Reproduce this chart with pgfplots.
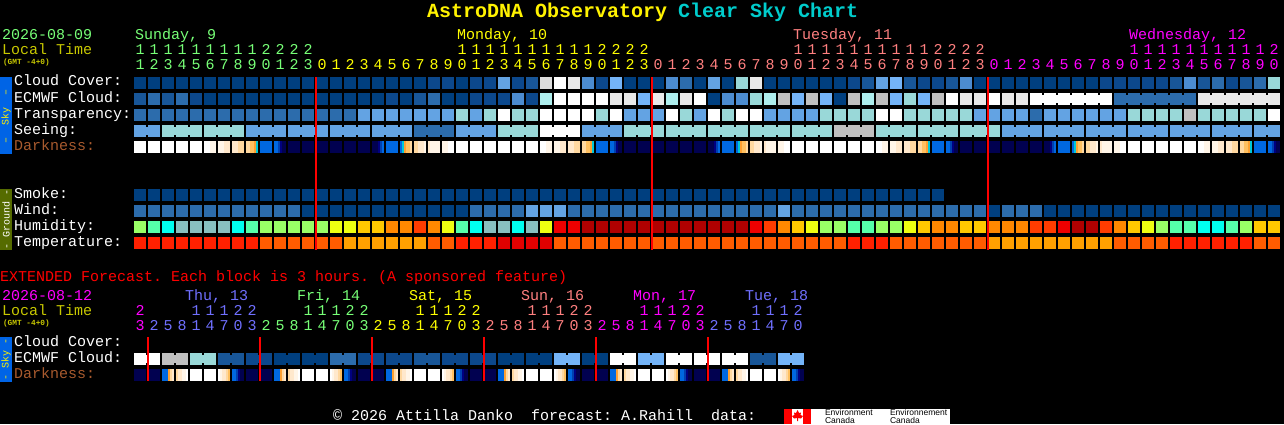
\documentclass[border=0pt]{standalone}
\usepackage{fontspec}
\usepackage{pgfplots}
\usepackage{pgfplotstable}
\pgfplotsset{compat=1.18}
\setmainfont{Liberation Mono}
\newfontfamily\logofont{Liberation Sans}
\frenchspacing

% one row per hour column: x = centre of the block in px, then colour codes, s1..s6 = darkness stripes
\pgfplotstableread{
x cloud ecmwf transp seeing smoke wind humid temp s1 s2 s3 s4 s5 s6
140 0 2 3 5 0 3 19 24 12 12 12 12 12 12
154 0 3 3 5 0 3 20 24 12 12 12 12 12 12
168 0 2 3 7 0 3 21 24 12 12 12 12 12 12
182 0 3 3 7 0 3 22 24 12 12 12 12 12 12
196 0 1 3 7 0 3 22 24 12 12 12 12 12 12
210 0 0 3 7 0 3 22 24 12 12 12 36 36 36
224 0 0 3 7 0 3 22 24 36 36 36 35 35 35
238 0 0 3 7 0 3 21 24 35 35 35 34 34 34
252 0 0 3 5 0 3 20 24 34 34 33 33 32 31
266 0 0 3 5 0 3 19 25 30 30 30 30 30 30
280 0 0 3 5 0 3 19 25 30 30 29 28 27 27
294 0 0 3 5 0 3 19 25 27 27 27 27 27 27
308 0 0 3 5 0 0 19 25 27 27 27 27 27 27
322 0 0 3 5 0 0 19 25 27 27 27 27 27 27
336 0 0 3 5 0 0 18 25 27 27 27 27 27 27
350 0 0 3 5 0 0 18 26 27 27 27 27 27 27
364 0 0 5 5 0 0 17 26 27 27 27 27 27 27
378 0 0 5 5 0 0 17 26 27 27 27 28 29 30
392 0 1 5 5 0 0 16 26 30 30 30 30 30 30
406 0 0 5 5 0 0 16 26 30 31 32 33 33 34
420 0 2 5 3 0 0 15 26 34 34 35 35 35 36
434 1 3 5 3 0 0 16 25 35 36 36 36 36 36
448 1 0 5 3 0 0 18 25 36 36 36 12 12 12
462 0 0 7 5 0 0 20 24 12 12 12 12 12 12
476 1 1 5 5 0 3 21 24 12 12 12 12 12 12
490 1 1 7 5 0 3 22 24 12 12 12 12 12 12
504 5 1 12 7 0 3 22 23 12 12 12 12 12 12
518 1 4 7 7 0 3 21 23 12 12 12 12 12 12
532 2 1 7 7 0 5 22 23 12 12 12 12 12 12
546 10 8 12 12 0 5 18 23 12 12 12 36 36 36
560 12 12 12 12 0 5 14 25 36 36 36 35 35 35
574 11 12 12 12 0 3 14 25 35 35 35 34 34 34
588 4 12 12 5 0 3 13 25 34 34 33 33 32 31
602 1 12 7 5 0 3 13 25 30 30 30 30 30 30
616 6 11 12 5 0 3 13 25 30 30 29 28 27 27
630 0 11 5 7 0 3 13 25 27 27 27 27 27 27
644 0 6 5 7 0 3 13 25 27 27 27 27 27 27
658 0 11 5 7 0 3 13 25 27 27 27 27 27 27
672 4 8 12 7 0 3 13 25 27 27 27 27 27 27
686 3 11 7 7 0 3 13 25 27 27 27 27 27 27
700 0 12 5 7 0 3 13 25 27 27 27 27 27 27
714 5 0 12 7 0 3 13 25 27 27 27 28 29 30
728 0 4 7 7 0 3 13 25 30 30 30 30 30 30
742 7 4 12 7 0 3 13 25 30 31 32 33 33 34
756 11 7 12 7 0 3 14 25 34 34 35 35 35 36
770 0 8 5 7 0 3 15 25 35 36 36 36 36 36
784 0 9 5 7 0 5 16 25 36 36 36 12 12 12
798 0 6 5 7 0 3 17 25 12 12 12 12 12 12
812 0 9 5 7 0 3 18 25 12 12 12 12 12 12
826 0 6 7 7 0 3 19 25 12 12 12 12 12 12
840 0 0 7 9 0 3 19 25 12 12 12 12 12 12
854 1 9 7 9 0 3 20 24 12 12 12 12 12 12
868 2 8 7 9 0 3 20 24 12 12 12 12 12 12
882 5 9 12 7 0 3 19 24 12 12 12 36 36 36
896 6 6 12 7 0 3 19 25 36 36 36 35 35 35
910 2 7 7 7 0 3 18 25 35 35 35 34 34 34
924 1 6 7 7 0 3 17 25 34 34 33 33 32 31
938 1 9 7 7 0 3 16 25 30 30 30 30 30 30
952 2 12 7 7 nan 3 16 25 30 30 29 28 27 27
966 4 11 7 7 nan 3 17 25 27 27 27 27 27 27
980 0 11 5 7 nan 3 17 25 27 27 27 27 27 27
994 0 12 5 7 nan 0 16 26 27 27 27 27 27 27
1008 0 11 5 5 nan 3 16 26 27 27 27 27 27 27
1022 0 11 5 5 nan 3 16 26 27 27 27 27 27 27
1036 0 12 3 5 nan 3 15 26 27 27 27 27 27 27
1050 0 12 5 5 nan 0 15 26 27 27 27 28 29 30
1064 0 12 5 5 nan 0 14 26 30 30 30 30 30 30
1078 0 12 5 5 nan 0 13 26 30 31 32 33 33 34
1092 0 12 5 5 nan 0 13 26 34 34 35 35 35 36
1106 1 12 5 5 nan 0 15 26 35 36 36 36 36 36
1120 1 3 5 5 nan 0 16 25 36 36 36 12 12 12
1134 1 3 7 5 nan 0 17 25 12 12 12 12 12 12
1148 1 3 7 5 nan 0 18 25 12 12 12 12 12 12
1162 1 3 7 5 nan 0 19 25 12 12 12 12 12 12
1176 2 3 7 5 nan 0 20 24 12 12 12 12 12 12
1190 4 3 9 5 nan 0 20 24 12 12 12 12 12 12
1204 2 11 7 5 nan 0 21 24 12 12 12 36 36 36
1218 3 11 7 5 nan 0 21 24 36 36 36 35 35 35
1232 1 11 7 5 nan 0 20 24 35 35 35 34 34 34
1246 2 11 7 5 nan 0 19 24 34 34 33 33 32 31
1260 3 11 7 5 nan 0 17 25 30 30 30 30 30 30
1274 7 11 12 5 nan 0 17 25 30 30 29 28 27 27
}\hours

% extended forecast, one row per 3 hour column
\pgfplotstableread{
x ecmwf s1 s2 s3 s4 s5 s6
140 12 27 27 27 27 27 27
154 12 27 27 27 27 27 27
168 9 30 30 30 32 34 35
182 9 34 35 35 36 36 12
196 7 12 12 12 12 12 12
210 7 12 12 12 12 12 12
224 2 12 36 35 35 34 33
238 2 30 30 29 28 27 27
252 1 27 27 27 27 27 27
266 1 27 27 27 27 27 27
280 0 30 30 30 32 34 35
294 0 34 35 35 36 36 12
308 0 12 12 12 12 12 12
322 0 12 12 12 12 12 12
336 3 12 36 35 35 34 33
350 3 30 30 29 28 27 27
364 1 27 27 27 27 27 27
378 1 27 27 27 27 27 27
392 1 30 30 30 32 34 35
406 1 34 35 35 36 36 12
420 2 12 12 12 12 12 12
434 2 12 12 12 12 12 12
448 1 12 36 35 35 34 33
462 1 30 30 29 28 27 27
476 1 27 27 27 27 27 27
490 1 27 27 27 27 27 27
504 0 30 30 30 32 34 35
518 0 34 35 35 36 36 12
532 0 12 12 12 12 12 12
546 0 12 12 12 12 12 12
560 6 12 36 35 35 34 33
574 6 30 30 29 28 27 27
588 0 27 27 27 27 27 27
602 0 27 27 27 27 27 27
616 12 30 30 30 32 34 35
630 12 34 35 35 36 36 12
644 6 12 12 12 12 12 12
658 6 12 12 12 12 12 12
672 12 12 36 35 35 34 33
686 12 30 30 29 28 27 27
700 12 27 27 27 27 27 27
714 12 27 27 27 27 27 27
728 12 30 30 30 32 34 35
742 12 34 35 35 36 36 12
756 2 12 12 12 12 12 12
770 2 12 12 12 12 12 12
784 6 12 36 35 35 34 33
798 6 30 30 29 28 27 27
}\extended

% little joins between blocks of one forecast period
\pgfplotstableread{
x c
147 5
175 7
189 7
217 7
231 7
259 5
273 5
301 5
315 5
343 5
357 5
385 5
399 5
427 3
441 3
469 5
483 5
511 7
525 7
553 12
567 12
595 5
609 5
637 7
651 7
679 7
693 7
721 7
735 7
763 7
777 7
805 7
819 7
847 9
861 9
889 7
903 7
931 7
945 7
973 7
987 7
1015 5
1029 5
1057 5
1071 5
1099 5
1113 5
1141 5
1155 5
1183 5
1197 5
1225 5
1239 5
1267 5
}\seeingjoins

\pgfplotstableread{
x c
1043 12
1057 12
1071 12
1085 12
1099 12
1127 3
1141 3
1155 3
1169 3
1183 3
1211 11
1225 11
1239 11
1253 11
1267 11
}\ecmwfjoins

\pgfplotstableread{
x c
147 12
175 9
203 7
231 2
259 1
287 0
315 0
343 3
371 1
399 1
427 2
455 1
483 1
511 0
539 0
567 6
595 0
623 12
651 6
679 12
707 12
735 12
763 2
791 6
}\extjoins

\pgfdeclareplotmark{cell}{\pgfpathrectangle{\pgfqpoint{-6pt}{-6pt}}{\pgfqpoint{12pt}{12pt}}\pgfusepathqfill}
\pgfdeclareplotmark{stripe}{\pgfpathrectangle{\pgfqpoint{-1pt}{-6pt}}{\pgfqpoint{2pt}{12pt}}\pgfusepathqfill}
\pgfdeclareplotmark{join}{\pgfpathrectangle{\pgfqpoint{-1pt}{-4pt}}{\pgfqpoint{2pt}{8pt}}\pgfusepathqfill}

\pgfplotsset{
  blocks/.style={only marks, scatter, scatter src=explicit, mark=#1,
    scatter/use mapped color={fill=mapped color}},
  redline/.style={no markers, color=red, line width=2pt},
}

\definecolor{skyblue}{RGB}{0,100,230}
\definecolor{groundgreen}{RGB}{85,107,0}
\definecolor{sunc}{RGB}{119,255,119}
\definecolor{monc}{RGB}{255,255,0}
\definecolor{tuec}{RGB}{255,128,128}
\definecolor{wedc}{RGB}{255,0,255}
\definecolor{thuc}{RGB}{112,112,255}
\definecolor{localc}{RGB}{200,200,0}
\definecolor{darkc}{RGB}{168,90,46}
\definecolor{titlec}{RGB}{0,204,204}

% digits on a 14 px pitch: colour, first column, baseline, digits
\newcommand{\digits}[4]{%
  \foreach \d [count=\i from #2] in {#4}
    \node[txt,anchor=base,text=#1] at ({140+14*\i},#3) {\d};}

\begin{document}
\begin{tikzpicture}
\useasboundingbox (0,0) rectangle (1284pt,424pt);
\fill[black] (0,0) rectangle (1284pt,424pt);
\begin{axis}[
    at={(0,0)}, anchor=south west,
    scale only axis, width=1284pt, height=424pt,
    xmin=0, xmax=1284, ymin=0, ymax=424, y dir=reverse,
    hide axis,
    clip mode=individual,
    point meta min=0, point meta max=36,
    colormap={clearsky}{[1pt]
      rgb255(0pt)=(0,63,127) rgb255(1pt)=(12,72,140) rgb255(2pt)=(24,86,152)
      rgb255(3pt)=(44,108,172) rgb255(4pt)=(76,140,208) rgb255(5pt)=(99,163,227)
      rgb255(6pt)=(116,180,248) rgb255(7pt)=(153,216,216) rgb255(8pt)=(174,238,238)
      rgb255(9pt)=(192,192,192) rgb255(10pt)=(221,221,221) rgb255(11pt)=(233,233,233)
      rgb255(12pt)=(255,255,255)
      rgb255(13pt)=(176,0,0) rgb255(14pt)=(238,0,0) rgb255(15pt)=(255,60,0)
      rgb255(16pt)=(255,136,0) rgb255(17pt)=(255,200,0) rgb255(18pt)=(238,255,17)
      rgb255(19pt)=(153,255,102) rgb255(20pt)=(85,255,170) rgb255(21pt)=(0,255,240)
      rgb255(22pt)=(136,191,191)
      rgb255(23pt)=(224,0,0) rgb255(24pt)=(255,32,0) rgb255(25pt)=(255,92,0)
      rgb255(26pt)=(255,160,0)
      rgb255(27pt)=(0,0,80) rgb255(28pt)=(0,0,128) rgb255(29pt)=(0,64,176)
      rgb255(30pt)=(0,104,224) rgb255(31pt)=(0,200,216) rgb255(32pt)=(255,160,48)
      rgb255(33pt)=(255,192,96) rgb255(34pt)=(255,216,160) rgb255(35pt)=(255,232,204)
      rgb255(36pt)=(255,245,232)},
]
% sky rows
\addplot[blocks=cell] table[x=x,y expr=83,meta=cloud]{\hours};
\addplot[blocks=cell] table[x=x,y expr=99,meta=ecmwf]{\hours};
\addplot[blocks=join] table[x=x,y expr=99,meta=c]{\ecmwfjoins};
\addplot[blocks=cell] table[x=x,y expr=115,meta=transp]{\hours};
\addplot[blocks=cell] table[x=x,y expr=131,meta=seeing]{\hours};
\addplot[blocks=join] table[x=x,y expr=131,meta=c]{\seeingjoins};
\addplot[blocks=stripe] table[x expr=\thisrow{x}-5,y expr=147,meta=s1]{\hours};
\addplot[blocks=stripe] table[x expr=\thisrow{x}-3,y expr=147,meta=s2]{\hours};
\addplot[blocks=stripe] table[x expr=\thisrow{x}-1,y expr=147,meta=s3]{\hours};
\addplot[blocks=stripe] table[x expr=\thisrow{x}+1,y expr=147,meta=s4]{\hours};
\addplot[blocks=stripe] table[x expr=\thisrow{x}+3,y expr=147,meta=s5]{\hours};
\addplot[blocks=stripe] table[x expr=\thisrow{x}+5,y expr=147,meta=s6]{\hours};
% ground rows
\addplot[blocks=cell,skip coords between index={58}{82}] table[x=x,y expr=195,meta=smoke]{\hours};
\addplot[blocks=cell] table[x=x,y expr=211,meta=wind]{\hours};
\addplot[blocks=cell] table[x=x,y expr=227,meta=humid]{\hours};
\addplot[blocks=cell] table[x=x,y expr=243,meta=temp]{\hours};
% extended forecast
\addplot[blocks=cell] table[x=x,y expr=359,meta=ecmwf]{\extended};
\addplot[blocks=join] table[x=x,y expr=359,meta=c]{\extjoins};
\addplot[blocks=stripe] table[x expr=\thisrow{x}-5,y expr=375,meta=s1]{\extended};
\addplot[blocks=stripe] table[x expr=\thisrow{x}-3,y expr=375,meta=s2]{\extended};
\addplot[blocks=stripe] table[x expr=\thisrow{x}-1,y expr=375,meta=s3]{\extended};
\addplot[blocks=stripe] table[x expr=\thisrow{x}+1,y expr=375,meta=s4]{\extended};
\addplot[blocks=stripe] table[x expr=\thisrow{x}+3,y expr=375,meta=s5]{\extended};
\addplot[blocks=stripe] table[x expr=\thisrow{x}+5,y expr=375,meta=s6]{\extended};
% midnight lines
\addplot[redline] coordinates {(316,77) (316,250)};
\addplot[redline] coordinates {(652,77) (652,250)};
\addplot[redline] coordinates {(988,77) (988,250)};
\addplot[redline] coordinates {(148,337) (148,381)};
\addplot[redline] coordinates {(260,337) (260,381)};
\addplot[redline] coordinates {(372,337) (372,381)};
\addplot[redline] coordinates {(484,337) (484,381)};
\addplot[redline] coordinates {(596,337) (596,381)};
\addplot[redline] coordinates {(708,337) (708,381)};
\end{axis}

% all the text, in picture pixels from the top left
\begin{scope}[x=1pt,y=-1pt,shift={(0,424pt)},
    txt/.style={inner sep=0pt,outer sep=0pt,text=white,font=\fontsize{15}{15}\selectfont},
    lab/.style={txt,anchor=base west}]
\node[lab,font=\fontsize{20}{20}\selectfont\bfseries,text=yellow] at (427,18) {AstroDNA Observatory};
\node[lab,font=\fontsize{20}{20}\selectfont\bfseries,text=titlec] at (678,18) {Clear Sky Chart};

\node[lab,text=sunc] at (2,40) {2026-08-09};
\node[lab,text=localc] at (2,55) {Local Time};
\node[lab,text=localc,font=\fontsize{7.8}{8}\selectfont\bfseries] at (3,65) {(GMT -4+0)};
\node[lab,text=sunc] at (135,40) {Sunday, 9};
\node[lab,text=monc] at (457,40) {Monday, 10};
\node[lab,text=tuec] at (793,40) {Tuesday, 11};
\node[lab,text=wedc] at (1129,40) {Wednesday, 12};

\digits{sunc}{0}{55}{1,1,1,1,1,1,1,1,1,2,2,2,2}
\digits{monc}{23}{55}{1,1,1,1,1,1,1,1,1,1,2,2,2,2}
\digits{tuec}{47}{55}{1,1,1,1,1,1,1,1,1,1,2,2,2,2}
\digits{wedc}{71}{55}{1,1,1,1,1,1,1,1,1,1,2}
\digits{sunc}{0}{70}{1,2,3,4,5,6,7,8,9,0,1,2,3}
\digits{monc}{13}{70}{0,1,2,3,4,5,6,7,8,9,0,1,2,3,4,5,6,7,8,9,0,1,2,3}
\digits{tuec}{37}{70}{0,1,2,3,4,5,6,7,8,9,0,1,2,3,4,5,6,7,8,9,0,1,2,3}
\digits{wedc}{61}{70}{0,1,2,3,4,5,6,7,8,9,0,1,2,3,4,5,6,7,8,9,0}

\node[lab] at (14,86) {Cloud Cover:};
\node[lab] at (14,102) {ECMWF Cloud:};
\node[lab] at (14,118) {Transparency:};
\node[lab] at (14,134) {Seeing:};
\node[lab,text=darkc] at (14,150) {Darkness:};
\node[lab] at (14,198) {Smoke:};
\node[lab] at (14,214) {Wind:};
\node[lab] at (14,230) {Humidity:};
\node[lab] at (14,246) {Temperature:};

\fill[skyblue] (0,77) rectangle (12,154);
\fill[groundgreen] (0,189) rectangle (12,250);
\fill[skyblue] (0,337) rectangle (12,382);
\node[txt,rotate=90,text=yellow,font=\fontsize{10}{10}\selectfont] at (6,116) {--\ \ Sky\ \ --};
\node[txt,rotate=90,text=white,font=\fontsize{10}{10}\selectfont] at (6,219) {- Ground -};
\node[txt,rotate=90,text=yellow,font=\fontsize{10}{10}\selectfont] at (6,359) {- Sky -};

\node[lab,text=red] at (0,281) {EXTENDED Forecast. Each block is 3 hours. (A sponsored feature)};
\node[lab,text=wedc] at (2,300) {2026-08-12};
\node[lab,text=localc] at (2,315) {Local Time};
\node[lab,text=localc,font=\fontsize{7.8}{8}\selectfont\bfseries] at (3,325) {(GMT -4+0)};
\node[lab,text=thuc] at (185,300) {Thu, 13};
\node[lab,text=sunc] at (297,300) {Fri, 14};
\node[lab,text=monc] at (409,300) {Sat, 15};
\node[lab,text=tuec] at (521,300) {Sun, 16};
\node[lab,text=wedc] at (633,300) {Mon, 17};
\node[lab,text=thuc] at (745,300) {Tue, 18};

\digits{wedc}{0}{315}{2}
\digits{thuc}{4}{315}{1,1,1,2,2}
\digits{sunc}{12}{315}{1,1,1,2,2}
\digits{monc}{20}{315}{1,1,1,2,2}
\digits{tuec}{28}{315}{1,1,1,2,2}
\digits{wedc}{36}{315}{1,1,1,2,2}
\digits{thuc}{44}{315}{1,1,1,2}
\digits{wedc}{0}{330}{3}
\digits{thuc}{1}{330}{2,5,8,1,4,7,0,3}
\digits{sunc}{9}{330}{2,5,8,1,4,7,0,3}
\digits{monc}{17}{330}{2,5,8,1,4,7,0,3}
\digits{tuec}{25}{330}{2,5,8,1,4,7,0,3}
\digits{wedc}{33}{330}{2,5,8,1,4,7,0,3}
\digits{thuc}{41}{330}{2,5,8,1,4,7,0}

\node[lab] at (14,346) {Cloud Cover:};
\node[lab] at (14,362) {ECMWF Cloud:};
\node[lab,text=darkc] at (14,378) {Darkness:};

\node[lab] at (333,420) {© 2026 Attilla Danko\ \ forecast: A.Rahill\ \ data:};

% Environment Canada logo
\fill[white] (784,409) rectangle (950,424);
\fill[red] (784,409) rectangle (792,424);
\fill[red] (803,409) rectangle (811,424);
\fill[red] (797.5,410) -- (799,413) -- (801,412.5) -- (800.5,415) -- (803,416) -- (801,418.5)
  -- (798,418) -- (798,421) -- (797,421) -- (797,418) -- (794,418.5) -- (792,416) -- (794.5,415)
  -- (794,412.5) -- (796,413) -- cycle;
\node[lab,text=black,font=\logofont\fontsize{8.5}{8.5}\selectfont] at (825,415) {Environment};
\node[lab,text=black,font=\logofont\fontsize{8.5}{8.5}\selectfont] at (825,423) {Canada};
\node[lab,text=black,font=\logofont\fontsize{8.5}{8.5}\selectfont] at (890,415) {Environnement};
\node[lab,text=black,font=\logofont\fontsize{8.5}{8.5}\selectfont] at (890,423) {Canada};
\end{scope}
\end{tikzpicture}
\end{document}
